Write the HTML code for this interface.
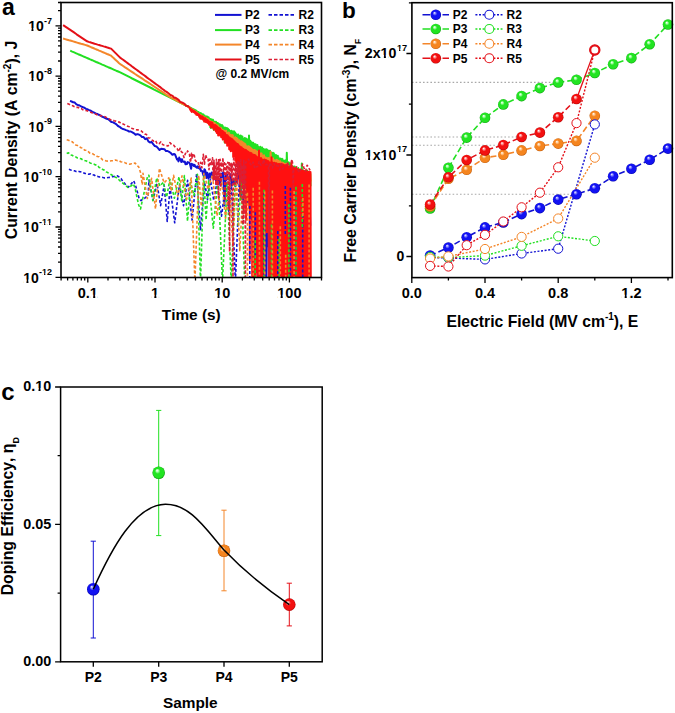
<!DOCTYPE html>
<html><head><meta charset="utf-8"><style>
html,body{margin:0;padding:0;background:#fff;width:675px;height:713px;overflow:hidden}
svg{display:block}
</style></head><body>
<svg width="675" height="713" viewBox="0 0 675 713" font-family="Liberation Sans, sans-serif" font-weight="bold" style="font-kerning:none">
<defs>
<clipPath id="ca"><rect x="61.0" y="2.5" width="260.5" height="275.0"/></clipPath>
<radialGradient id="gb" cx="0.5" cy="0.5" r="0.5" fx="0.36" fy="0.3"><stop offset="0" stop-color="#ffffff"/><stop offset="0.18" stop-color="#9090ff"/><stop offset="0.42" stop-color="#1212f2"/><stop offset="0.85" stop-color="#1212f2"/><stop offset="1" stop-color="#0000a8"/></radialGradient>
<radialGradient id="gg" cx="0.5" cy="0.5" r="0.5" fx="0.36" fy="0.3"><stop offset="0" stop-color="#ffffff"/><stop offset="0.18" stop-color="#b0ffb0"/><stop offset="0.42" stop-color="#22e422"/><stop offset="0.85" stop-color="#22e422"/><stop offset="1" stop-color="#0ea00e"/></radialGradient>
<radialGradient id="go" cx="0.5" cy="0.5" r="0.5" fx="0.36" fy="0.3"><stop offset="0" stop-color="#ffffff"/><stop offset="0.18" stop-color="#ffd0a0"/><stop offset="0.42" stop-color="#f5851f"/><stop offset="0.85" stop-color="#f5851f"/><stop offset="1" stop-color="#c05a08"/></radialGradient>
<radialGradient id="gr" cx="0.5" cy="0.5" r="0.5" fx="0.36" fy="0.3"><stop offset="0" stop-color="#ffffff"/><stop offset="0.18" stop-color="#ffa0a0"/><stop offset="0.42" stop-color="#f21010"/><stop offset="0.85" stop-color="#f21010"/><stop offset="1" stop-color="#b00000"/></radialGradient>
</defs>
<rect width="675" height="713" fill="#fff"/>
<g clip-path="url(#ca)" fill="none" stroke-linejoin="round">
<path d="M70.0,100.9 71.6,101.5 73.2,102.3 74.8,102.6 76.4,104.4 78.0,105.0 79.6,105.5 81.2,106.5 82.8,107.1 84.4,107.7 86.0,108.9 87.6,109.3 89.2,110.1 90.8,110.7 92.4,111.8 94.0,112.5 95.6,113.4 97.2,113.9 98.8,114.8 100.4,115.4 102.0,116.6 103.6,117.2 105.2,118.0 106.8,118.8 108.4,119.3 110.0,120.8 111.6,122.1 113.2,122.3 114.8,123.3 116.4,124.4 118.0,126.0 119.6,126.8 121.2,128.1 122.8,129.0 124.4,129.4 126.0,130.1 127.6,130.6 129.2,131.6 130.8,131.5 132.4,132.4 134.0,133.3 135.6,134.7 137.2,134.1 138.8,134.5 140.4,135.4 142.0,137.0 143.6,137.1 145.2,139.2 146.8,138.3 148.4,141.4 150.0,142.5 151.6,141.9 153.2,144.2 154.8,146.1 156.4,146.4 158.0,148.1 159.6,150.0 161.2,148.8 162.8,149.0 164.4,149.2 166.0,151.1 167.6,151.0 169.2,151.9 170.8,153.0 172.4,154.8 174.0,154.0 175.0,154.4 175.7,156.1 176.4,157.8 177.1,159.5 177.8,159.0 178.5,161.4 179.2,157.6 179.9,159.7 180.6,159.2 181.3,162.1 182.0,159.2 182.7,161.4 183.4,161.4 184.1,162.0 184.8,161.5 185.5,164.3 186.2,163.5 186.9,164.1 187.6,162.1 188.3,162.6 189.0,162.5 189.7,163.3 190.4,165.8 191.1,168.8 191.8,163.7 192.5,165.0 193.2,164.6 193.9,166.0 194.6,164.9 195.3,166.7 196.0,166.8 196.7,167.7 197.4,166.3 198.1,167.9 198.8,166.6 199.5,168.7 200.2,168.1 200.9,170.9 201.6,170.6 202.3,171.3 203.0,173.9 203.7,175.8 204.4,169.3 205.1,170.0 205.8,172.4 206.5,177.9 207.3,172.8 208.5,178.7 209.7,173.5 210.7,177.6 211.7,172.5 212.6,177.6 213.5,172.3 214.5,178.2 215.4,177.2 216.5,182.6 217.5,177.5 218.5,181.2 219.5,179.7 220.3,185.2 221.1,173.6 222.1,176.9 223.2,172.3 224.4,205.4 225.6,175.8 226.3,180.3 227.1,174.7 227.8,178.8 228.4,177.9 229.5,179.6 230.6,174.2 231.5,185.3 232.3,180.1 233.5,182.4 234.6,180.5 235.5,186.3 236.4,180.1 237.1,183.5 237.8,174.0 239.0,175.5 240.3,182.3 241.0,188.1 241.7,179.4 242.3,184.9 243.0,181.9 243.7,183.2 244.5,179.7 245.7,182.1 246.8,181.0 247.7,203.2 248.7,182.1 249.5,196.5 250.4,184.8 251.5,219.2 252.7,179.7 253.5,182.2 254.4,180.0 255.0,282.0 255.6,181.8 256.3,208.3 257.0,176.6 258.3,282.0 259.6,179.4 260.4,180.7 261.1,179.1 261.8,183.1 262.4,179.6 263.1,237.8 263.8,183.4 264.6,282.0 265.4,183.8 266.4,282.0 267.5,178.8 268.6,246.6 269.6,182.0 270.3,282.0 271.0,178.5 271.8,254.8 272.5,184.7 273.3,282.0 274.1,177.3 275.2,282.0 276.3,177.1 277.1,223.5 277.9,179.1 278.8,213.7 279.6,177.0 280.6,196.7 281.7,176.9 282.8,253.9 284.0,181.2 284.6,191.5 285.2,181.5 286.0,234.7 286.8,185.0 287.4,192.2 288.1,171.2 289.0,188.1 289.8,178.2 290.9,194.1 292.0,194.5 292.7,282.0 293.4,183.4 294.5,225.4 295.6,179.7 296.6,282.0 297.6,186.0 298.6,196.1 299.5,189.6 300.4,223.2 301.4,190.3 302.3,198.6 303.2,185.7 304.4,282.0 305.6,177.5 306.4,179.8 307.3,175.5 308.2,224.2 309.1,184.9 310.3,225.8" stroke="#1212d2" stroke-width="2.0"/>
<path d="M70.2,50.7 72.2,51.6 74.2,52.4 76.2,53.3 78.2,54.2 80.2,55.0 82.2,55.9 84.2,56.8 86.2,57.6 88.2,58.5 90.2,59.4 92.2,60.2 94.2,61.1 96.2,62.0 98.2,62.8 100.2,63.7 102.2,64.6 104.2,65.4 106.2,66.3 108.2,67.2 110.2,68.0 112.2,68.9 114.2,69.8 116.2,70.7 118.2,71.5 120.2,72.4 122.2,73.4 124.2,74.4 126.2,75.4 128.2,76.4 130.2,77.4 132.2,78.5 134.2,79.5 136.2,80.5 138.2,81.5 140.2,82.5 142.2,83.5 144.2,84.5 146.2,85.5 148.2,86.5 150.2,87.5 152.2,88.5 154.2,89.6 156.2,90.6 158.2,91.6 160.2,92.6 162.2,93.6 164.2,94.6 166.2,95.6 168.2,96.6 170.2,97.6 172.2,98.6 174.2,99.6 176.2,100.7 178.2,101.7 180.2,102.7 182.2,103.7 184.2,104.7 186.2,105.7 188.2,106.7 190.2,107.7 192.2,108.7 194.2,109.6 196.2,110.6 198.0,112.4 198.3,114.1 198.6,112.1 198.9,113.5 199.2,113.1 199.5,115.0 199.8,114.1 200.1,117.3 200.4,112.9 200.7,114.9 201.0,113.3 201.3,116.0 201.6,113.9 201.9,116.0 202.2,114.6 202.5,117.6 202.8,114.2 203.1,116.9 203.4,114.5 203.7,118.7 204.0,115.3 204.3,120.4 204.6,115.4 204.9,118.3 205.2,117.4 205.5,121.1 205.8,116.9 206.1,120.7 206.4,116.4 206.7,121.6 207.0,116.4 207.3,122.3 207.6,116.8 207.9,120.5 208.2,117.8 208.5,123.1 208.8,117.5 209.1,122.7 209.4,119.8 209.7,124.0 210.0,119.5 210.3,127.1 210.6,119.0 210.9,127.9 211.2,119.4 211.5,124.8 211.8,119.6 212.1,124.3 212.4,119.8 212.7,124.9 213.0,119.8 213.3,128.4 213.6,121.8 213.9,130.0 214.2,121.7 214.5,128.3 214.8,121.7 215.1,127.1 215.4,122.8 215.7,128.9 216.0,121.8 216.3,127.6 216.6,123.9 216.9,132.2 217.2,123.1 217.5,130.8 217.8,122.9 218.1,130.0 218.4,123.9 218.7,134.8 219.0,124.0 219.3,130.8 219.6,125.5 219.9,131.8 220.2,124.4 220.5,130.7 220.8,127.1 221.1,135.1 221.4,126.3 221.7,134.8 222.0,125.1 222.3,133.7 222.6,125.7 222.9,132.5 223.2,128.0 223.5,134.9 223.8,127.5 224.1,137.0 224.4,128.4 224.7,142.6 225.0,127.4 225.3,135.2 225.6,128.4 225.9,135.4 226.2,127.9 226.5,137.4 226.8,129.6 227.1,138.2 227.4,128.3 227.7,138.4 228.0,128.8 228.3,136.0 228.6,129.6 228.9,136.6 229.2,130.0 229.5,140.5 229.8,130.8 230.1,137.5 230.4,131.1 230.7,139.8 231.0,133.1 231.3,144.0 231.6,130.8 231.9,138.3 232.2,132.4 232.5,141.0 232.8,131.7 233.1,138.6 233.4,132.3 233.7,140.5 234.0,131.2 234.3,142.5 234.6,133.3 234.9,144.0 235.2,132.6 235.5,142.2 235.8,134.3 236.1,142.3 236.4,134.2 236.7,145.5 237.0,135.0 237.3,145.6 237.6,136.2 237.9,145.6 238.2,134.6 238.5,143.2 238.8,137.0 239.1,148.2 239.4,136.4 239.7,143.8 240.0,135.7 240.3,145.0 240.6,135.5 240.9,146.5 241.2,136.1 241.5,146.0 241.8,137.7 242.1,146.0 242.4,136.6 242.7,144.5 243.0,139.4 243.3,147.3 243.6,138.9 243.9,147.4 244.2,138.4 244.5,148.2 244.8,138.0 245.1,149.3 245.4,141.5 245.7,149.7 246.0,138.4 246.3,146.5 246.6,138.9 246.9,148.5 247.2,139.2 247.5,149.2 247.8,140.2 248.1,150.5 248.4,141.5 248.7,151.5 249.0,135.6 249.3,143.7 249.6,140.8 249.9,149.4 250.2,140.8 250.5,156.2 250.8,141.6 251.1,151.3 251.4,142.2 251.7,157.2 252.0,142.6 252.3,157.0 252.6,143.7 252.9,151.9 253.2,142.7 253.5,150.9 253.8,143.8 254.1,152.1 254.4,143.9 254.7,152.0 255.0,145.3 255.3,156.7 255.6,144.3 255.9,152.5 256.2,145.0 256.5,154.3 256.8,145.4 257.1,154.8 257.4,145.1 257.7,155.1 258.0,146.6 258.3,155.0 258.6,147.0 258.9,156.7 259.2,148.5 259.5,157.0 259.8,148.2 260.1,164.0 260.4,146.8 260.7,156.6 261.0,147.9 261.3,157.8 261.6,148.7 261.9,159.1 262.2,147.6 262.5,163.6 262.8,152.0 263.1,163.4 263.4,149.1 263.7,157.8 264.0,150.2 264.3,160.1 264.6,149.5 264.9,159.0 265.2,149.5 265.5,159.0 265.8,150.7 266.1,161.0 266.4,149.2 266.7,158.1 267.0,149.6 267.3,159.5 267.6,150.2 267.9,159.9 268.2,150.7 268.5,160.1 268.8,150.8 269.1,162.1 269.4,152.0 269.7,162.3 270.0,150.8 270.3,159.9 270.6,153.6 270.9,163.5 271.2,152.5 271.5,162.7 271.8,153.0 272.1,164.3 272.4,153.9 272.7,164.2 273.0,152.8 273.3,164.9 273.6,153.0 273.9,163.2 274.2,154.1 274.5,164.6 274.8,155.0 275.1,166.2 275.4,156.3 275.7,166.0 276.0,155.1 276.3,166.1 276.6,156.7 276.9,167.0 277.2,157.3 277.5,166.8 277.8,155.7 278.1,168.9 278.4,157.2 278.7,171.5 279.0,159.5 279.3,171.3 279.6,161.0 279.9,173.2 280.2,158.5 280.5,169.0 280.8,159.8 281.1,175.1 281.4,160.5 281.7,173.2 282.0,158.7 282.3,169.9 282.6,159.2 282.9,169.2 283.2,161.0 283.5,173.7 283.8,160.9 284.1,172.9 284.4,160.7 284.7,170.9 285.0,160.5 285.3,173.4 285.6,160.4 285.9,171.1 286.2,160.8 286.5,171.8 286.8,152.7 287.1,162.7 287.4,164.3 287.7,178.1 288.0,163.7 288.3,174.2 288.6,162.2 288.9,175.3 289.2,163.1 289.5,176.6 289.8,165.9 290.1,176.7 290.4,163.4 290.7,173.8 291.0,165.4 291.3,176.4 291.6,166.6 291.9,178.9 292.2,166.3 292.5,177.3 292.8,169.3 293.1,181.2 293.4,167.3 293.7,178.1 294.0,167.3 294.3,178.7 294.6,166.6 294.9,179.6 295.2,168.9 295.5,182.5 295.8,167.4 296.1,180.8 296.4,168.5 296.7,182.2 297.0,169.5 297.3,180.5 297.6,169.2 297.9,180.0 298.2,168.0 298.5,180.1 298.8,169.8 299.1,185.1 299.4,170.4 299.7,181.2 300.0,171.9 300.3,183.6 300.6,171.7 300.9,183.6 301.2,174.5 301.5,188.1 301.8,163.5 302.1,178.7 302.4,169.8 302.7,180.8 303.0,171.3 303.3,183.7 303.6,172.7 303.9,184.5 304.2,170.9 304.5,182.3 304.8,172.2 305.1,183.5 305.4,171.0 305.7,184.6 306.0,172.0 306.3,185.7 306.6,170.7 306.9,182.1 307.2,170.4 307.5,182.8 307.8,175.1 308.1,186.5 308.4,172.7 308.7,185.4 309.0,172.5 309.3,184.3 309.6,172.9 309.9,184.3 310.2,173.9 310.5,186.3" stroke="#22e022" stroke-width="2.0"/>
<path d="M63.1,38.5 65.1,39.1 67.1,39.7 69.1,40.3 71.1,40.8 73.1,41.4 75.1,42.0 77.1,42.6 79.1,43.2 81.1,43.8 83.1,44.3 85.1,44.9 87.1,45.5 89.1,46.3 91.1,47.2 93.1,48.0 95.1,48.9 97.1,49.7 99.1,50.6 101.1,51.4 103.1,52.3 105.1,53.1 107.1,54.0 109.1,54.8 111.1,55.7 113.1,57.6 115.1,59.4 117.1,61.3 119.1,63.2 121.1,64.7 123.1,66.0 125.1,67.4 127.1,68.7 129.1,70.0 131.1,71.3 133.1,72.6 135.1,74.0 137.1,75.3 139.1,76.6 141.1,77.9 143.1,79.2 145.1,80.6 147.1,81.9 149.1,83.2 151.1,84.5 153.1,85.8 155.1,87.2 157.1,88.5 159.1,89.8 161.1,91.1 163.1,92.4 165.1,93.8 167.1,95.1 169.1,96.4 171.1,97.6 173.1,98.7 175.1,99.7 177.1,100.8 179.1,101.9 181.1,103.0 183.1,104.0 185.1,105.1 187.1,106.2 189.1,107.5 191.1,108.8 193.1,110.1 195.1,111.4 197.1,112.6 198.0,113.6 198.3,114.6 198.6,114.6 198.9,115.5 199.2,115.0 199.5,116.3 199.8,114.8 200.1,116.4 200.4,115.8 200.7,117.6 201.0,115.2 201.3,116.9 201.6,115.6 201.9,117.6 202.2,116.9 202.5,118.9 202.8,117.6 203.1,119.6 203.4,116.6 203.7,118.4 204.0,117.3 204.3,121.0 204.6,117.4 204.9,119.2 205.2,118.7 205.5,122.0 205.8,117.7 206.1,120.0 206.4,118.8 206.7,120.9 207.0,118.7 207.3,120.9 207.6,120.3 207.9,123.1 208.2,119.2 208.5,122.2 208.8,120.4 209.1,123.5 209.4,120.6 209.7,124.4 210.0,121.1 210.3,124.0 210.6,121.3 210.9,123.9 211.2,121.7 211.5,124.6 211.8,122.2 212.1,126.0 212.4,121.9 212.7,125.2 213.0,124.8 213.3,127.6 213.6,122.8 213.9,125.9 214.2,124.2 214.5,127.8 214.8,123.2 215.1,126.9 215.4,125.6 215.7,129.2 216.0,124.5 216.3,127.8 216.6,125.7 216.9,131.5 217.2,126.5 217.5,130.0 217.8,125.2 218.1,129.7 218.4,127.2 218.7,130.8 219.0,127.3 219.3,131.7 219.6,129.8 219.9,133.9 220.2,128.8 220.5,133.3 220.8,127.8 221.1,132.2 221.4,129.0 221.7,133.1 222.0,130.9 222.3,137.3 222.6,130.1 222.9,134.6 223.2,130.2 223.5,135.2 223.8,131.0 224.1,134.9 224.4,130.7 224.7,135.4 225.0,132.6 225.3,136.4 225.6,131.8 225.9,136.7 226.2,130.8 226.5,136.0 226.8,133.5 227.1,138.3 227.4,133.5 227.7,137.5 228.0,134.1 228.3,138.2 228.6,132.5 228.9,138.5 229.2,133.0 229.5,138.3 229.8,134.7 230.1,138.8 230.4,135.1 230.7,139.6 231.0,135.0 231.3,145.0 231.6,137.0 231.9,141.7 232.2,135.2 232.5,139.7 232.8,135.3 233.1,143.3 233.4,138.0 233.7,142.9 234.0,137.9 234.3,142.8 234.6,139.8 234.9,145.1 235.2,137.2 235.5,141.9 235.8,141.8 236.1,146.1 236.4,137.9 236.7,142.7 237.0,138.4 237.3,142.5 237.6,139.1 237.9,143.2 238.2,140.2 238.5,144.9 238.8,141.1 239.1,145.4 239.4,140.3 239.7,147.4 240.0,142.5 240.3,147.5 240.6,142.7 240.9,150.3 241.2,141.2 241.5,149.1 241.8,141.5 242.1,145.9 242.4,143.4 242.7,148.1 243.0,142.6 243.3,147.2 243.6,142.9 243.9,147.4 244.2,144.5 244.5,150.2 244.8,143.7 245.1,148.4 245.4,144.3 245.7,151.9 246.0,147.9 246.3,152.3 246.6,146.6 246.9,151.9 247.2,146.6 247.5,154.4 247.8,147.3 248.1,152.1 248.4,146.3 248.7,150.7 249.0,146.4 249.3,150.8 249.6,149.1 249.9,154.4 250.2,147.6 250.5,152.6 250.8,148.0 251.1,156.9 251.4,149.3 251.7,154.3 252.0,149.3 252.3,155.4 252.6,150.1 252.9,157.3 253.2,151.5 253.5,157.3 253.8,150.0 254.1,155.0 254.4,149.9 254.7,154.7 255.0,152.9 255.3,158.8 255.6,150.4 255.9,156.8 256.2,151.2 256.5,157.4 256.8,152.1 257.1,158.3 257.4,152.9 257.7,158.3 258.0,151.5 258.3,156.2 258.6,155.0 258.9,160.8 259.2,154.1 259.5,160.0 259.8,154.1 260.1,160.3 260.4,154.8 260.7,161.5 261.0,153.2 261.3,158.5 261.6,153.6 261.9,159.7 262.2,155.6 262.5,160.3 262.8,157.0 263.1,162.7 263.4,158.5 263.7,163.6 264.0,155.3 264.3,162.6 264.6,161.8 264.9,170.8 265.2,157.5 265.5,163.6 265.8,157.6 266.1,162.6 266.4,157.9 266.7,163.9 267.0,160.3 267.3,167.0 267.6,158.9 267.9,164.5 268.2,158.1 268.5,163.2 268.8,160.0 269.1,167.0 269.4,162.7 269.7,167.9 270.0,158.1 270.3,163.8 270.6,152.1 270.9,157.6 271.2,161.6 271.5,167.2 271.8,160.5 272.1,165.7 272.4,161.3 272.7,167.8 273.0,158.2 273.3,165.2 273.6,160.2 273.9,167.8 274.2,162.6 274.5,168.2 274.8,160.2 275.1,165.4 275.4,162.8 275.7,168.3 276.0,160.6 276.3,166.3 276.6,159.7 276.9,166.0 277.2,161.5 277.5,166.9 277.8,160.5 278.1,166.3 278.4,160.7 278.7,166.4 279.0,162.3 279.3,168.5 279.6,161.4 279.9,168.7 280.2,161.2 280.5,166.9 280.8,167.2 281.1,175.8 281.4,165.9 281.7,171.5 282.0,162.6 282.3,168.0 282.6,166.2 282.9,173.4 283.2,163.1 283.5,169.2 283.8,165.3 284.1,172.5 284.4,163.7 284.7,170.2 285.0,166.3 285.3,172.5 285.6,165.5 285.9,171.0 286.2,163.8 286.5,173.8 286.8,165.7 287.1,172.6 287.4,164.7 287.7,171.9 288.0,166.3 288.3,174.3 288.6,166.2 288.9,172.1 289.2,166.6 289.5,172.6 289.8,171.5 290.1,179.7 290.4,166.2 290.7,175.6 291.0,168.7 291.3,175.5 291.6,167.1 291.9,173.2 292.2,168.7 292.5,174.6 292.8,169.8 293.1,176.0 293.4,169.7 293.7,176.3 294.0,171.6 294.3,178.1 294.6,169.0 294.9,175.5 295.2,169.6 295.5,175.9 295.8,172.7 296.1,183.4 296.4,174.3 296.7,180.7 297.0,170.2 297.3,176.3 297.6,169.6 297.9,176.4 298.2,170.2 298.5,178.1 298.8,172.7 299.1,178.9 299.4,173.2 299.7,179.2 300.0,170.6 300.3,177.4 300.6,173.6 300.9,179.9 301.2,171.1 301.5,178.6 301.8,171.4 302.1,179.6 302.4,173.8 302.7,181.5 303.0,172.5 303.3,180.4 303.6,175.5 303.9,182.1 304.2,172.4 304.5,179.4 304.8,173.7 305.1,180.9 305.4,172.5 305.7,179.0 306.0,171.8 306.3,177.9 306.6,175.4 306.9,183.3 307.2,172.4 307.5,179.4 307.8,173.2 308.1,180.1 308.4,172.0 308.7,179.0 309.0,179.9 309.3,186.9 309.6,172.8 309.9,179.7 310.2,173.4 310.5,181.5" stroke="#f4862a" stroke-width="2.0"/>
<path d="M63.1,25.2 64.6,26.2 66.1,27.2 67.6,28.2 69.1,29.2 70.6,30.2 72.1,31.2 73.6,32.2 75.1,33.2 76.6,34.3 78.1,35.3 79.6,36.3 81.1,37.3 82.6,38.3 84.1,39.3 85.6,40.3 87.1,41.3 88.6,41.9 90.1,42.3 91.6,42.8 93.1,43.2 94.6,43.7 96.1,44.1 97.6,44.6 99.1,45.0 100.6,45.5 102.1,45.9 103.6,46.4 105.1,46.8 106.6,47.3 108.1,47.7 109.6,48.2 111.1,48.6 112.6,50.1 114.1,51.6 115.6,53.1 117.1,54.6 118.6,56.1 120.1,57.6 121.6,58.7 123.1,59.8 124.6,60.9 126.1,62.0 127.6,63.1 129.1,64.2 130.6,65.3 132.1,66.5 133.6,67.6 135.1,68.7 136.6,69.8 138.1,70.9 139.6,72.0 141.1,73.1 142.6,74.2 144.1,75.3 145.6,76.4 147.1,77.6 148.6,78.7 150.1,79.8 151.6,80.9 153.1,82.0 154.6,83.1 156.1,84.2 157.6,85.3 159.1,86.4 160.6,87.4 162.1,88.7 163.6,89.8 165.1,91.1 166.6,91.9 168.1,93.0 169.6,94.3 171.1,95.3 172.6,95.9 174.1,97.7 175.6,97.8 177.1,98.8 178.6,99.8 180.1,101.9 181.6,102.3 183.1,103.0 184.6,103.9 186.1,105.8 187.6,106.0 189.1,106.8" stroke="#e41018" stroke-width="2.0"/>
<path d="M189.1,106.8 190.0,108.8 190.2,109.8 190.5,108.5 190.8,109.5 191.0,110.2 191.2,111.2 191.5,111.0 191.8,112.0 192.0,109.8 192.2,110.8 192.5,110.6 192.8,111.6 193.0,110.6 193.2,111.6 193.5,111.0 193.8,112.2 194.0,111.2 194.2,112.2 194.5,111.2 194.8,112.2 195.0,112.5 195.2,113.6 195.5,112.1 195.8,113.7 196.0,113.3 196.2,114.5 196.5,113.5 196.8,114.9 197.0,113.2 197.2,114.2 197.5,113.8 197.8,115.0 198.0,113.9 198.2,115.1 198.5,114.3 198.8,115.8 199.0,115.0 199.2,116.8 199.5,115.0 199.8,116.6 200.0,116.1 200.2,118.4 200.5,116.0 200.8,117.9 201.0,117.1 201.2,118.8 201.5,117.2 201.8,118.5 202.0,116.2 202.2,118.7 202.5,116.5 202.8,118.5 203.0,117.5 203.2,119.6 203.5,117.6 203.8,119.9 204.0,119.2 204.2,121.6 204.5,118.4 204.8,121.0 205.0,118.4 205.2,120.6 205.5,118.3 205.8,119.8 206.0,120.3 206.2,122.1 206.5,119.7 206.8,121.4 207.0,120.1 207.2,122.5 207.5,119.9 207.8,122.0 208.0,120.6 208.2,122.6 208.5,121.9 208.8,123.9 209.0,121.4 209.2,124.8 209.5,122.8 209.8,124.5 210.0,122.2 210.2,124.7 210.5,122.2 210.8,125.8 211.0,123.5 211.2,127.4 211.5,122.5 211.8,125.4 212.0,122.6 212.2,126.2 212.5,123.0 212.8,127.1 213.0,124.5 213.2,127.9 213.5,124.8 213.8,129.6 214.0,124.9 214.2,128.4 214.5,125.4 214.8,128.8 215.0,125.1 215.2,129.2 215.5,125.6 215.8,131.3 216.0,125.6 216.2,131.6 216.5,127.2 216.8,132.9 217.0,126.4 217.2,132.8 217.5,127.3 217.8,132.2 218.0,128.6 218.2,135.5 218.5,127.7 218.8,131.9 219.0,128.0 219.2,134.4 219.5,129.5 219.8,134.8 220.0,128.6 220.2,135.6 220.5,129.5 220.8,133.6 221.0,131.2 221.2,137.3 221.5,130.6 221.8,137.1 222.0,131.0 222.2,136.6 222.5,130.9 222.8,139.6 223.0,131.4 223.2,138.0 223.5,132.9 223.8,138.0 224.0,132.2 224.2,138.5 224.5,133.1 224.8,141.7 225.0,133.0 225.2,142.8 225.5,134.4 225.8,142.8 226.0,134.8 226.2,139.9 226.5,135.1 226.8,141.1 227.0,135.8 227.2,145.7 227.5,135.3 227.8,140.9 228.0,136.1 228.2,141.6 228.5,137.1 228.8,144.1 229.0,137.7 229.2,149.3 229.5,137.6 229.8,146.9 230.0,138.0 230.2,150.1 230.5,139.9 230.8,151.3 231.0,138.7 231.2,149.7 231.5,138.8 231.8,149.2 232.0,139.9 232.2,148.2 232.5,139.6 232.8,151.5 233.0,141.3 233.2,157.0 233.5,140.5 233.8,153.2 234.0,142.2 234.2,156.4 234.5,141.6 234.8,156.7 235.0,142.2 235.2,160.2 235.5,142.4 235.8,152.0 236.0,143.5 236.2,163.2 236.5,143.4 236.8,164.5 237.0,143.8 237.2,165.7 237.5,144.5 237.8,164.4 238.0,144.3 238.2,172.3 238.5,145.1 238.8,168.2 239.0,145.9 239.2,166.0 239.5,147.0 239.8,194.4 240.0,146.5 240.2,169.2 240.5,147.2 240.8,199.7 241.0,147.5 241.2,172.7 241.5,147.3 241.8,187.5 242.0,148.0 242.2,184.8 242.5,148.4 242.8,179.2 243.0,149.5 243.2,170.7 243.5,149.0 243.8,213.6 244.0,150.2 244.2,179.4 244.5,150.7 244.8,187.5 245.0,149.8 245.2,173.7 245.5,150.3 245.8,179.4 246.0,150.1 246.2,219.8 246.5,151.3 246.8,173.6 247.0,151.0 247.2,200.6 247.5,151.2 247.8,173.8 248.0,152.9 248.2,189.7 248.5,152.0 248.8,184.3 249.0,153.2 249.2,208.5 249.5,152.9 249.8,260.8 250.0,152.8 250.2,197.6 250.5,153.0 250.8,216.2 251.0,154.2 251.2,209.9 251.5,153.3 251.8,201.1 252.0,154.6 252.2,282.0 252.5,154.4 252.8,282.0 253.0,155.0 253.2,282.0 253.5,154.7 253.8,282.0 254.0,154.9 254.2,202.9 254.5,155.0 254.8,191.2 255.0,155.8 255.2,205.2 255.5,155.6 255.8,282.0 256.0,156.2 256.2,221.4 256.5,156.4 256.8,272.3 257.0,157.5 257.2,220.6 257.5,158.3 257.8,249.7 258.0,157.3 258.2,282.0 258.5,157.0 258.8,282.0 259.0,150.6 259.2,282.0 259.5,158.3 259.8,282.0 260.0,158.4 260.2,282.0 260.5,159.4 260.8,238.2 261.0,158.0 261.2,282.0 261.5,160.1 261.8,282.0 262.0,160.3 262.2,282.0 262.5,159.6 262.8,282.0 263.0,160.0 263.2,282.0 263.5,160.0 263.8,282.0 264.0,161.1 264.2,282.0 264.5,159.6 264.8,202.5 265.0,160.5 265.2,194.0 265.5,159.9 265.8,194.5 266.0,161.6 266.2,201.6 266.5,160.2 266.8,232.2 267.0,161.7 267.2,218.5 267.5,161.8 267.8,216.1 268.0,161.0 268.2,218.1 268.5,161.2 268.8,282.0 269.0,162.5 269.2,282.0 269.5,162.4 269.8,282.0 270.0,162.5 270.2,282.0 270.5,162.7 270.8,282.0 271.0,162.5 271.2,282.0 271.5,157.2 271.8,226.8 272.0,162.2 272.2,282.0 272.5,164.1 272.8,282.0 273.0,162.7 273.2,282.0 273.5,163.1 273.8,214.5 274.0,164.0 274.2,282.0 274.5,162.8 274.8,282.0 275.0,163.0 275.2,282.0 275.5,163.6 275.8,282.0 276.0,164.9 276.2,282.0 276.5,163.3 276.8,282.0 277.0,164.6 277.2,207.2 277.5,164.5 277.8,282.0 278.0,166.5 278.2,282.0 278.5,164.1 278.8,282.0 279.0,164.4 279.2,282.0 279.5,164.0 279.8,282.0 280.0,164.9 280.2,282.0 280.5,164.5 280.8,282.0 281.0,164.8 281.2,282.0 281.5,164.4 281.8,282.0 282.0,165.1 282.2,282.0 282.5,165.2 282.8,282.0 283.0,164.5 283.2,282.0 283.5,164.8 283.8,282.0 284.0,165.5 284.2,282.0 284.5,165.5 284.8,282.0 285.0,166.5 285.2,282.0 285.5,165.3 285.8,282.0 286.0,165.6 286.2,282.0 286.5,167.5 286.8,282.0 287.0,166.0 287.2,282.0 287.5,165.9 287.8,282.0 288.0,166.5 288.2,282.0 288.5,166.9 288.8,282.0 289.0,166.7 289.2,282.0 289.5,167.7 289.8,282.0 290.0,166.7 290.2,282.0 290.5,167.4 290.8,282.0 291.0,167.9 291.2,282.0 291.5,163.0 291.8,282.0 292.0,167.9 292.2,282.0 292.5,168.6 292.8,282.0 293.0,167.5 293.2,282.0 293.5,169.2 293.8,282.0 294.0,167.9 294.2,282.0 294.5,168.9 294.8,282.0 295.0,168.3 295.2,282.0 295.5,168.5 295.8,282.0 296.0,169.4 296.2,282.0 296.5,169.3 296.8,232.1 297.0,169.2 297.2,282.0 297.5,169.1 297.8,282.0 298.0,169.7 298.2,282.0 298.5,169.9 298.8,282.0 299.0,170.3 299.2,282.0 299.5,169.5 299.8,233.8 300.0,169.9 300.2,282.0 300.5,172.4 300.8,282.0 301.0,170.2 301.2,282.0 301.5,170.3 301.8,282.0 302.0,171.7 302.2,268.7 302.5,171.1 302.8,282.0 303.0,170.6 303.2,207.7 303.5,171.3 303.8,282.0 304.0,171.4 304.2,258.8 304.5,171.3 304.8,282.0 305.0,171.6 305.2,282.0 305.5,171.4 305.8,282.0 306.0,171.1 306.2,282.0 306.5,172.0 306.8,282.0 307.0,171.9 307.2,282.0 307.5,171.5 307.8,282.0 308.0,171.9 308.2,282.0 308.5,172.4 308.8,282.0 309.0,171.7 309.2,282.0 309.5,172.6 309.8,282.0 310.0,173.6 310.2,282.0 310.5,172.0 310.8,282.0" stroke="#ff1010" stroke-width="2.0"/>
<path d="M68.9,169.3 70.7,170.0 72.5,170.4 74.3,170.8 76.1,171.5 77.9,171.1 79.7,171.7 81.5,171.9 83.3,172.7 85.1,173.5 86.9,173.6 88.7,174.2 90.5,173.9 92.3,174.9 94.1,175.0 95.9,176.3 97.7,176.4 99.5,176.9 101.3,177.0 103.1,177.6 104.9,178.1 106.7,177.9 108.5,177.5 110.3,177.3 112.1,176.8 113.9,176.5 115.7,176.3 117.5,175.9 119.3,177.1 121.1,178.6 122.9,181.6 124.7,183.4 126.5,185.7 128.3,187.1 130.1,185.2 131.9,183.0 133.7,180.8 135.5,185.4 137.3,191.8 139.1,198.5 140.9,200.6 142.7,199.1 144.5,198.4 146.3,196.9 148.1,195.9 148.9,180.1 153.0,200.2 157.0,183.6 160.6,205.6 164.2,185.1 167.2,221.4 170.1,187.5 174.7,222.8 179.4,185.1 183.5,205.7 187.6,180.4 192.1,220.1 196.6,173.9 200.5,230.4 204.5,181.9 207.5,199.7 210.4,179.2 213.7,200.3 217.0,182.5 221.5,216.1 225.9,182.7 228.7,211.1 231.4,183.2 235.4,282.0 239.3,182.4 243.5,202.1M249.8,206.1V282.0M255.3,212.3V258.2M264.2,193.2V282.0M269.2,316.5V339.5M277.8,231.0V282.0M285.3,186.0V235.2M290.4,187.7V282.0M295.7,191.9V293.7M302.7,214.5V282.0" stroke="#1212d2" stroke-width="1.6" stroke-dasharray="3,2"/>
<path d="M66.7,153.5 68.5,152.8 70.3,154.8 72.1,155.3 73.9,156.4 75.7,156.9 77.5,158.0 79.3,158.2 81.1,158.8 82.9,159.9 84.7,160.6 86.5,161.1 88.3,161.9 90.1,162.9 91.9,163.7 93.7,164.1 95.5,164.9 97.3,165.2 99.1,167.4 100.9,167.9 102.7,169.5 104.5,170.3 106.3,171.9 108.1,172.8 109.9,173.6 111.7,175.0 113.5,175.4 115.3,177.2 117.1,177.7 118.9,179.8 120.7,181.6 122.5,182.9 124.3,184.3 126.1,185.8 127.9,187.5 129.7,186.9 131.5,185.5 133.3,183.8 135.1,188.1 136.9,197.1 138.7,205.0 140.5,209.0 142.3,200.6 144.1,192.6 145.9,184.1 147.7,175.7 148.9,175.3 152.8,200.6 156.7,177.9 160.0,186.1 163.4,182.1 166.6,197.2 169.9,179.4 174.4,198.2 179.0,176.7 181.7,200.6 184.4,175.5 187.5,221.2 190.5,182.6 194.0,195.3 197.4,174.2 200.5,282.0 203.7,176.4 206.1,219.9 208.6,180.8 213.3,228.2 218.0,178.0 222.5,282.0 227.1,182.3 231.2,282.0 235.3,177.3 238.3,226.6 241.3,178.5 244.7,282.0M247.6,296.3V282.0M255.2,240.3V314.8M264.1,189.8V282.0M271.5,224.6V282.0M279.1,238.8V282.0M288.9,204.2V282.0M296.0,186.7V282.0M302.3,184.1V229.2" stroke="#22e022" stroke-width="1.6" stroke-dasharray="3,2"/>
<path d="M66.7,139.8 68.5,140.3 70.3,141.1 72.1,141.7 73.9,143.4 75.7,144.9 77.5,145.5 79.3,146.7 81.1,147.8 82.9,148.2 84.7,150.3 86.5,150.2 88.3,151.6 90.1,153.3 91.9,153.4 93.7,154.4 95.5,155.2 97.3,156.5 99.1,156.7 100.9,158.2 102.7,159.9 104.5,160.4 106.3,161.0 108.1,161.1 109.9,161.0 111.7,160.8 113.5,160.8 115.3,160.0 117.1,160.6 118.9,160.6 120.7,161.7 122.5,162.1 124.3,162.4 126.1,163.4 127.9,163.7 129.7,164.2 131.5,163.7 133.3,163.8 135.1,163.0 136.9,165.3 138.7,166.9 140.5,172.4 142.3,184.7 143.0,173.4 147.3,198.5 151.6,178.3 155.5,208.9 159.4,168.3 164.1,182.9 168.8,177.8 171.2,190.9 173.6,175.4 177.8,196.1 182.0,175.9 186.6,199.4 191.2,178.1 194.9,282.0 198.7,175.4 201.3,206.1 203.9,173.2 208.1,189.2 212.4,174.9 217.0,215.8 221.5,178.9 225.5,218.3 229.5,180.1 232.9,245.3 236.3,174.3 239.8,250.7 243.3,181.2 247.5,200.9M247.4,192.7V282.0M253.2,187.8V282.0M259.4,181.8V282.0M264.8,191.6V282.0M272.4,190.5V282.0M280.3,226.2V282.0M285.7,254.7V282.0M294.1,191.0V282.0M302.9,197.9V218.4M309.1,184.6V282.0" stroke="#f4862a" stroke-width="1.6" stroke-dasharray="3,2"/>
<path d="M67.3,103.6 69.1,104.3 70.9,105.4 72.7,105.7 74.5,106.7 76.3,107.4 78.1,107.3 79.9,108.7 81.7,108.8 83.5,110.3 85.3,110.5 87.1,110.7 88.9,111.6 90.7,112.2 92.5,112.9 94.3,113.8 96.1,114.2 97.9,115.2 99.7,115.5 101.5,115.9 103.3,116.1 105.1,116.7 106.9,117.9 108.7,118.7 110.5,119.7 112.3,119.8 114.1,120.7 115.9,121.1 117.7,122.0 119.5,122.1 121.3,123.7 123.1,124.0 124.9,124.9 126.7,125.8 128.5,126.5 130.3,126.8 132.1,128.5 133.9,129.0 135.7,129.7 137.5,129.9 139.3,130.1 141.1,130.8 142.9,132.4 144.7,133.9 146.5,134.6 148.3,138.0 150.1,138.0 151.9,139.9 153.7,141.2 155.5,140.4 157.3,144.0 159.1,143.7 160.9,141.9 162.7,144.6 164.5,145.4 166.3,145.6 168.1,146.0 169.9,142.6 171.7,144.6 173.5,145.1 175.3,147.3 177.1,148.6 178.9,151.6 180.0,148.3 181.3,151.6 182.5,152.8 184.0,157.6 185.5,153.2 186.6,153.9 187.6,150.9 188.6,152.9 189.5,154.4 190.5,162.4 191.5,153.4 192.2,158.7 193.0,153.5 194.1,154.2 195.2,160.3 196.7,162.2 198.1,161.8 199.3,167.7 200.5,162.3 201.9,167.8 203.3,154.3 204.5,164.1 205.6,154.9 206.9,158.8 208.1,158.6 209.0,169.7 209.9,159.0 211.2,165.2 212.5,157.8 213.2,180.1 214.0,160.2 214.7,180.3 215.4,164.6 215.9,185.5 216.4,159.4 217.2,184.2 218.0,161.0 218.4,198.0 218.8,158.9 219.4,179.7 220.1,159.3 220.9,187.5 221.7,162.1 222.3,166.8 222.9,157.6 223.6,172.1 224.3,161.2 225.1,201.2 225.9,163.9 226.3,183.9 226.8,165.6 227.3,179.7 227.8,162.2 228.4,208.1 229.1,161.2 229.6,251.8 230.0,162.5 230.6,172.1 231.1,163.3 231.7,179.2 232.3,163.0 233.0,282.0 233.6,158.6 234.1,164.2 234.6,162.7 235.2,184.2 235.8,164.8 236.3,180.3 236.9,162.5 237.4,183.8 237.9,161.5 238.7,174.6 239.4,161.2 240.0,196.6 240.7,159.9 241.2,181.8 241.8,165.1 242.3,222.3 242.8,165.0 243.3,224.6 243.8,160.4 244.4,195.7 245.0,164.4 245.4,282.0 245.7,162.3 247.2,162.0 248.7,159.2 250.2,163.8 251.7,165.4 253.2,162.2 254.7,168.7 256.2,166.7 257.7,166.5 259.2,161.3 260.7,165.2 262.2,165.4 263.7,159.5 265.2,164.7 266.7,164.2 268.5,166.2 268.9,282.0 269.4,162.8 270.9,164.5 272.4,168.1 273.9,163.3 275.4,166.4 276.9,165.7 278.4,166.1 279.9,169.9 281.4,162.1 282.9,168.9 284.4,166.8 285.9,166.0 287.4,162.1 288.9,167.2 290.4,165.5 291.9,159.3 292.7,163.7 293.2,189.2 293.6,170.6 295.1,169.5 296.6,166.8 298.1,170.6 299.6,172.5 301.1,168.5 302.6,164.1 304.1,168.4 305.6,171.2 307.1,165.2 308.6,167.8 310.1,170.3" stroke="#dc1e34" stroke-width="1.6" stroke-dasharray="3,2"/>
</g>
<rect x="61.0" y="2.5" width="260.5" height="275.0" fill="none" stroke="#000" stroke-width="1.6"/>
<path d="M61.0,277.3H55.5M61.0,262.2H58.0M61.0,253.3H58.0M61.0,247.0H58.0M61.0,242.1H58.0M61.0,238.2H58.0M61.0,234.8H58.0M61.0,231.9H58.0M61.0,229.3H58.0M61.0,227.0H55.5M61.0,211.9H58.0M61.0,203.0H58.0M61.0,196.7H58.0M61.0,191.8H58.0M61.0,187.9H58.0M61.0,184.5H58.0M61.0,181.6H58.0M61.0,179.0H58.0M61.0,176.7H55.5M61.0,161.6H58.0M61.0,152.7H58.0M61.0,146.4H58.0M61.0,141.5H58.0M61.0,137.6H58.0M61.0,134.2H58.0M61.0,131.3H58.0M61.0,128.7H58.0M61.0,126.4H55.5M61.0,111.3H58.0M61.0,102.4H58.0M61.0,96.1H58.0M61.0,91.2H58.0M61.0,87.3H58.0M61.0,83.9H58.0M61.0,81.0H58.0M61.0,78.4H58.0M61.0,76.1H55.5M61.0,61.0H58.0M61.0,52.1H58.0M61.0,45.8H58.0M61.0,40.9H58.0M61.0,37.0H58.0M61.0,33.6H58.0M61.0,30.7H58.0M61.0,28.1H58.0M61.0,25.8H55.5M61.0,10.7H58.0M61.0,2.5H58.0M61.1,277.5V280.5M67.6,277.5V280.5M72.9,277.5V280.5M77.4,277.5V280.5M81.3,277.5V280.5M84.7,277.5V280.5M87.8,277.5V282.5M108.0,277.5V280.5M119.9,277.5V280.5M128.3,277.5V280.5M134.8,277.5V280.5M140.1,277.5V280.5M144.6,277.5V280.5M148.5,277.5V280.5M151.9,277.5V280.5M155.0,277.5V282.5M175.2,277.5V280.5M187.1,277.5V280.5M195.5,277.5V280.5M202.0,277.5V280.5M207.3,277.5V280.5M211.8,277.5V280.5M215.7,277.5V280.5M219.1,277.5V280.5M222.2,277.5V282.5M242.4,277.5V280.5M254.3,277.5V280.5M262.7,277.5V280.5M269.2,277.5V280.5M274.5,277.5V280.5M279.0,277.5V280.5M282.9,277.5V280.5M286.3,277.5V280.5M289.4,277.5V282.5M309.6,277.5V280.5M321.5,277.5V280.5" stroke="#000" stroke-width="1.3" fill="none"/>
<text x="38.79" y="282.50" font-size="14" text-anchor="end">10</text>
<text x="52.00" y="275.30" font-size="9" text-anchor="end">-12</text>
<text x="38.79" y="232.20" font-size="14" text-anchor="end">10</text>
<text x="52.00" y="225.00" font-size="9" text-anchor="end">-11</text>
<text x="38.79" y="181.90" font-size="14" text-anchor="end">10</text>
<text x="52.00" y="174.70" font-size="9" text-anchor="end">-10</text>
<text x="43.80" y="131.60" font-size="14" text-anchor="end">10</text>
<text x="52.00" y="124.40" font-size="9" text-anchor="end">-9</text>
<text x="43.80" y="81.30" font-size="14" text-anchor="end">10</text>
<text x="52.00" y="74.10" font-size="9" text-anchor="end">-8</text>
<text x="43.80" y="31.00" font-size="14" text-anchor="end">10</text>
<text x="52.00" y="23.80" font-size="9" text-anchor="end">-7</text>
<text x="87.80" y="297.80" font-size="14.5" text-anchor="middle">0.1</text>
<text x="155.00" y="297.80" font-size="14.5" text-anchor="middle">1</text>
<text x="222.20" y="297.80" font-size="14.5" text-anchor="middle">10</text>
<text x="289.40" y="297.80" font-size="14.5" text-anchor="middle">100</text>
<text x="191.25" y="319.9" font-size="15.4" text-anchor="middle">Time (s)</text>
<text transform="translate(17.2,140) rotate(-90)" font-size="15.8" text-anchor="middle">Current Density (A cm<tspan dy="-6.5" font-size="10">-2</tspan><tspan dy="6.5">), J</tspan></text>
<text x="2" y="14.7" font-size="23">a</text>
<path d="M215,14.9H241.5" stroke="#1212d2" stroke-width="2"/>
<text x="245" y="19.1" font-size="12">P2</text>
<path d="M268.5,14.9H295.5" stroke="#1212d2" stroke-width="1.6" stroke-dasharray="3.5,2"/>
<text x="298.5" y="19.1" font-size="12">R2</text>
<path d="M215,30.1H241.5" stroke="#22e022" stroke-width="2"/>
<text x="245" y="34.3" font-size="12">P3</text>
<path d="M268.5,30.1H295.5" stroke="#22e022" stroke-width="1.6" stroke-dasharray="3.5,2"/>
<text x="298.5" y="34.3" font-size="12">R3</text>
<path d="M215,44.6H241.5" stroke="#f4862a" stroke-width="2"/>
<text x="245" y="48.8" font-size="12">P4</text>
<path d="M268.5,44.6H295.5" stroke="#f4862a" stroke-width="1.6" stroke-dasharray="3.5,2"/>
<text x="298.5" y="48.8" font-size="12">R4</text>
<path d="M215,59.5H241.5" stroke="#e41018" stroke-width="2"/>
<text x="245" y="63.7" font-size="12">P5</text>
<path d="M268.5,59.5H295.5" stroke="#dc1e34" stroke-width="1.6" stroke-dasharray="3.5,2"/>
<text x="298.5" y="63.7" font-size="12">R5</text>
<text x="215.5" y="78.3" font-size="12">@ 0.2 MV/cm</text>
<path d="M411.9,82.4H558.0" stroke="#a8a8a8" stroke-width="1.1" stroke-dasharray="1.6,2.1"/>
<path d="M411.9,137.0H521.6" stroke="#a8a8a8" stroke-width="1.1" stroke-dasharray="1.6,2.1"/>
<path d="M411.9,145.2H503.3" stroke="#a8a8a8" stroke-width="1.1" stroke-dasharray="1.6,2.1"/>
<path d="M411.9,194.2H576.4" stroke="#a8a8a8" stroke-width="1.1" stroke-dasharray="1.6,2.1"/>
<path d="M430.1,255.6 448.4,247.6 466.7,237.2 485.0,227.4 503.3,222.4 521.6,214.1 539.9,208.1 558.2,199.6 576.5,194.2 594.8,188.3 613.1,176.3 631.4,168.8 649.7,159.7 668.0,148.6" fill="none" stroke="#1212d2" stroke-width="1.6" stroke-dasharray="6,3"/>
<path d="M430.1,208.5 448.4,167.8 466.7,137.6 485.0,117.8 503.3,104.4 521.6,96.1 539.9,88.1 558.2,82.4 576.5,79.8 594.8,73.0 613.1,64.2 631.4,58.1 649.7,44.2 668.0,24.5" fill="none" stroke="#22e022" stroke-width="1.6" stroke-dasharray="6,3"/>
<path d="M430.1,206.5 448.4,178.8 466.7,169.8 485.0,157.8 503.3,154.8 521.6,150.4 539.9,146.0 558.2,143.6 576.5,140.9 594.8,115.7" fill="none" stroke="#f4862a" stroke-width="1.6" stroke-dasharray="6,3"/>
<path d="M430.1,204.5 448.4,177.3 466.7,160.0 485.0,150.4 503.3,145.0 521.6,137.0 539.9,132.6 558.2,117.2 576.5,99.0" fill="none" stroke="#e41018" stroke-width="1.6" stroke-dasharray="6,3"/>
<path d="M576.5,99.0 594.8,50.0" fill="none" stroke="#e41018" stroke-width="1.3"/>
<path d="M430.1,257.5 448.4,258.0 485.0,259.4 521.6,253.5 558.2,248.7 594.8,124.4" fill="none" stroke="#1212d2" stroke-width="1.4" stroke-dasharray="2,1.6"/>
<path d="M430.1,257.0 448.4,257.6 485.0,255.6 521.6,245.8 558.2,236.3 594.8,241.0" fill="none" stroke="#22e022" stroke-width="1.4" stroke-dasharray="2,1.6"/>
<path d="M430.1,258.5 448.4,256.4 485.0,249.0 521.6,236.9 558.2,218.5 594.8,157.7" fill="none" stroke="#f4862a" stroke-width="1.4" stroke-dasharray="2,1.6"/>
<path d="M430.1,265.9 448.4,266.5 466.7,245.2 485.0,234.8 503.3,221.5 521.6,207.3 539.9,192.7 558.2,167.3 576.5,123.1 594.8,50.0" fill="none" stroke="#e41018" stroke-width="1.4" stroke-dasharray="2,1.6"/>
<circle cx="430.1" cy="255.6" r="5.3" fill="url(#gb)"/>
<circle cx="448.4" cy="247.6" r="5.3" fill="url(#gb)"/>
<circle cx="466.7" cy="237.2" r="5.3" fill="url(#gb)"/>
<circle cx="485.0" cy="227.4" r="5.3" fill="url(#gb)"/>
<circle cx="503.3" cy="222.4" r="5.3" fill="url(#gb)"/>
<circle cx="521.6" cy="214.1" r="5.3" fill="url(#gb)"/>
<circle cx="539.9" cy="208.1" r="5.3" fill="url(#gb)"/>
<circle cx="558.2" cy="199.6" r="5.3" fill="url(#gb)"/>
<circle cx="576.5" cy="194.2" r="5.3" fill="url(#gb)"/>
<circle cx="594.8" cy="188.3" r="5.3" fill="url(#gb)"/>
<circle cx="613.1" cy="176.3" r="5.3" fill="url(#gb)"/>
<circle cx="631.4" cy="168.8" r="5.3" fill="url(#gb)"/>
<circle cx="649.7" cy="159.7" r="5.3" fill="url(#gb)"/>
<circle cx="668.0" cy="148.6" r="5.3" fill="url(#gb)"/>
<circle cx="430.1" cy="208.5" r="5.3" fill="url(#gg)"/>
<circle cx="448.4" cy="167.8" r="5.3" fill="url(#gg)"/>
<circle cx="466.7" cy="137.6" r="5.3" fill="url(#gg)"/>
<circle cx="485.0" cy="117.8" r="5.3" fill="url(#gg)"/>
<circle cx="503.3" cy="104.4" r="5.3" fill="url(#gg)"/>
<circle cx="521.6" cy="96.1" r="5.3" fill="url(#gg)"/>
<circle cx="539.9" cy="88.1" r="5.3" fill="url(#gg)"/>
<circle cx="558.2" cy="82.4" r="5.3" fill="url(#gg)"/>
<circle cx="576.5" cy="79.8" r="5.3" fill="url(#gg)"/>
<circle cx="594.8" cy="73.0" r="5.3" fill="url(#gg)"/>
<circle cx="613.1" cy="64.2" r="5.3" fill="url(#gg)"/>
<circle cx="631.4" cy="58.1" r="5.3" fill="url(#gg)"/>
<circle cx="649.7" cy="44.2" r="5.3" fill="url(#gg)"/>
<circle cx="668.0" cy="24.5" r="5.3" fill="url(#gg)"/>
<circle cx="430.1" cy="206.5" r="5.3" fill="url(#go)"/>
<circle cx="448.4" cy="178.8" r="5.3" fill="url(#go)"/>
<circle cx="466.7" cy="169.8" r="5.3" fill="url(#go)"/>
<circle cx="485.0" cy="157.8" r="5.3" fill="url(#go)"/>
<circle cx="503.3" cy="154.8" r="5.3" fill="url(#go)"/>
<circle cx="521.6" cy="150.4" r="5.3" fill="url(#go)"/>
<circle cx="539.9" cy="146.0" r="5.3" fill="url(#go)"/>
<circle cx="558.2" cy="143.6" r="5.3" fill="url(#go)"/>
<circle cx="576.5" cy="140.9" r="5.3" fill="url(#go)"/>
<circle cx="594.8" cy="115.7" r="5.3" fill="url(#go)"/>
<circle cx="430.1" cy="204.5" r="5.3" fill="url(#gr)"/>
<circle cx="448.4" cy="177.3" r="5.3" fill="url(#gr)"/>
<circle cx="466.7" cy="160.0" r="5.3" fill="url(#gr)"/>
<circle cx="485.0" cy="150.4" r="5.3" fill="url(#gr)"/>
<circle cx="503.3" cy="145.0" r="5.3" fill="url(#gr)"/>
<circle cx="521.6" cy="137.0" r="5.3" fill="url(#gr)"/>
<circle cx="539.9" cy="132.6" r="5.3" fill="url(#gr)"/>
<circle cx="558.2" cy="117.2" r="5.3" fill="url(#gr)"/>
<circle cx="576.5" cy="99.0" r="5.3" fill="url(#gr)"/>
<circle cx="594.8" cy="50.0" r="5.3" fill="url(#gr)"/>
<circle cx="430.1" cy="257.5" r="4.6" fill="#fff" stroke="#1212d2" stroke-width="1.0"/>
<circle cx="448.4" cy="258.0" r="4.6" fill="#fff" stroke="#1212d2" stroke-width="1.0"/>
<circle cx="485.0" cy="259.4" r="4.6" fill="#fff" stroke="#1212d2" stroke-width="1.0"/>
<circle cx="521.6" cy="253.5" r="4.6" fill="#fff" stroke="#1212d2" stroke-width="1.0"/>
<circle cx="558.2" cy="248.7" r="4.6" fill="#fff" stroke="#1212d2" stroke-width="1.0"/>
<circle cx="594.8" cy="124.4" r="4.6" fill="#fff" stroke="#1212d2" stroke-width="1.0"/>
<circle cx="430.1" cy="257.0" r="4.6" fill="#fff" stroke="#22e022" stroke-width="1.0"/>
<circle cx="448.4" cy="257.6" r="4.6" fill="#fff" stroke="#22e022" stroke-width="1.0"/>
<circle cx="485.0" cy="255.6" r="4.6" fill="#fff" stroke="#22e022" stroke-width="1.0"/>
<circle cx="521.6" cy="245.8" r="4.6" fill="#fff" stroke="#22e022" stroke-width="1.0"/>
<circle cx="558.2" cy="236.3" r="4.6" fill="#fff" stroke="#22e022" stroke-width="1.0"/>
<circle cx="594.8" cy="241.0" r="4.6" fill="#fff" stroke="#22e022" stroke-width="1.0"/>
<circle cx="430.1" cy="258.5" r="4.6" fill="#fff" stroke="#f4862a" stroke-width="1.0"/>
<circle cx="448.4" cy="256.4" r="4.6" fill="#fff" stroke="#f4862a" stroke-width="1.0"/>
<circle cx="485.0" cy="249.0" r="4.6" fill="#fff" stroke="#f4862a" stroke-width="1.0"/>
<circle cx="521.6" cy="236.9" r="4.6" fill="#fff" stroke="#f4862a" stroke-width="1.0"/>
<circle cx="558.2" cy="218.5" r="4.6" fill="#fff" stroke="#f4862a" stroke-width="1.0"/>
<circle cx="594.8" cy="157.7" r="4.6" fill="#fff" stroke="#f4862a" stroke-width="1.0"/>
<circle cx="430.1" cy="265.9" r="4.6" fill="#fff" stroke="#e41018" stroke-width="1.0"/>
<circle cx="448.4" cy="266.5" r="4.6" fill="#fff" stroke="#e41018" stroke-width="1.0"/>
<circle cx="466.7" cy="245.2" r="4.6" fill="#fff" stroke="#e41018" stroke-width="1.0"/>
<circle cx="485.0" cy="234.8" r="4.6" fill="#fff" stroke="#e41018" stroke-width="1.0"/>
<circle cx="503.3" cy="221.5" r="4.6" fill="#fff" stroke="#e41018" stroke-width="1.0"/>
<circle cx="521.6" cy="207.3" r="4.6" fill="#fff" stroke="#e41018" stroke-width="1.0"/>
<circle cx="539.9" cy="192.7" r="4.6" fill="#fff" stroke="#e41018" stroke-width="1.0"/>
<circle cx="558.2" cy="167.3" r="4.6" fill="#fff" stroke="#e41018" stroke-width="1.0"/>
<circle cx="576.5" cy="123.1" r="4.6" fill="#fff" stroke="#e41018" stroke-width="1.0"/>
<circle cx="594.8" cy="50.0" r="4.6" fill="#fff" stroke="#e41018" stroke-width="2.2"/>
<rect x="411.9" y="2.7" width="260.4" height="274.9" fill="none" stroke="#000" stroke-width="1.6"/>
<path d="M411.9,256.5H406.4M411.9,155.0H406.4M411.9,53.5H406.4M411.9,205.8H408.9M411.9,104.2H408.9M411.9,2.8H408.9M411.8,277.6V283.1M485.0,277.6V283.1M558.2,277.6V283.1M631.4,277.6V283.1M448.4,277.6V280.6M521.6,277.6V280.6M594.8,277.6V280.6M668.0,277.6V280.6" stroke="#000" stroke-width="1.3" fill="none"/>
<text x="411.80" y="297.80" font-size="14.5" text-anchor="middle">0.0</text>
<text x="485.00" y="297.80" font-size="14.5" text-anchor="middle">0.4</text>
<text x="558.20" y="297.80" font-size="14.5" text-anchor="middle">0.8</text>
<text x="631.40" y="297.80" font-size="14.5" text-anchor="middle">1.2</text>
<text x="404.40" y="260.90" font-size="14" text-anchor="end">0</text>
<text x="396.40" y="159.50" font-size="14.2" text-anchor="end">1x10</text>
<text x="396.90" y="152.20" font-size="9.2">17</text>
<text x="396.40" y="58.00" font-size="14.2" text-anchor="end">2x10</text>
<text x="396.90" y="50.70" font-size="9.2">17</text>
<text x="542.4" y="327.2" font-size="15.75" text-anchor="middle">Electric Field (MV cm<tspan dy="-7" font-size="10">-1</tspan><tspan dy="7">), E</tspan></text>
<text transform="translate(356.2,150.7) rotate(-90)" font-size="15.85" text-anchor="middle">Free Carrier Density (cm<tspan dy="-6.5" font-size="10">-3</tspan><tspan dy="6.5">), N</tspan><tspan dy="4.5" font-size="8.5">F</tspan></text>
<text x="341.9" y="17.9" font-size="22.5">b</text>
<path d="M422.5,14.8H449" stroke="#1212d2" stroke-width="1.6" stroke-dasharray="7.6,12.4"/>
<circle cx="435.8" cy="14.8" r="5.3" fill="url(#gb)"/>
<text x="452.7" y="19.0" font-size="12">P2</text>
<path d="M475.4,14.8H502.5" stroke="#1212d2" stroke-width="1.4" stroke-dasharray="2,1.6"/>
<circle cx="489.3" cy="14.8" r="4.5" fill="#fff" stroke="#1212d2" stroke-width="1.1"/>
<text x="506.6" y="19.0" font-size="12">R2</text>
<path d="M422.5,29.0H449" stroke="#22e022" stroke-width="1.6" stroke-dasharray="7.6,12.4"/>
<circle cx="435.8" cy="29.0" r="5.3" fill="url(#gg)"/>
<text x="452.7" y="33.2" font-size="12">P3</text>
<path d="M475.4,29.0H502.5" stroke="#22e022" stroke-width="1.4" stroke-dasharray="2,1.6"/>
<circle cx="489.3" cy="29.0" r="4.5" fill="#fff" stroke="#22e022" stroke-width="1.1"/>
<text x="506.6" y="33.2" font-size="12">R3</text>
<path d="M422.5,43.8H449" stroke="#f4862a" stroke-width="1.6" stroke-dasharray="7.6,12.4"/>
<circle cx="435.8" cy="43.8" r="5.3" fill="url(#go)"/>
<text x="452.7" y="48.0" font-size="12">P4</text>
<path d="M475.4,43.8H502.5" stroke="#f4862a" stroke-width="1.4" stroke-dasharray="2,1.6"/>
<circle cx="489.3" cy="43.8" r="4.5" fill="#fff" stroke="#f4862a" stroke-width="1.1"/>
<text x="506.6" y="48.0" font-size="12">R4</text>
<path d="M422.5,58.3H449" stroke="#e41018" stroke-width="1.6" stroke-dasharray="7.6,12.4"/>
<circle cx="435.8" cy="58.3" r="5.3" fill="url(#gr)"/>
<text x="452.7" y="62.5" font-size="12">P5</text>
<path d="M475.4,58.3H502.5" stroke="#e41018" stroke-width="1.4" stroke-dasharray="2,1.6"/>
<circle cx="489.3" cy="58.3" r="4.5" fill="#fff" stroke="#e41018" stroke-width="1.1"/>
<text x="506.6" y="62.5" font-size="12">R5</text>
<path d="M93.3,541.2V638.0M90.7,541.2H95.9M90.7,638.0H95.9" stroke="#1212d2" stroke-width="1" fill="none"/>
<path d="M158.7,410.4V535.6M156.1,410.4H161.3M156.1,535.6H161.3" stroke="#22e022" stroke-width="1" fill="none"/>
<path d="M224.0,510.2V590.8M221.4,510.2H226.6M221.4,590.8H226.6" stroke="#f4862a" stroke-width="1" fill="none"/>
<path d="M289.3,583.2V625.9M286.7,583.2H291.9M286.7,625.9H291.9" stroke="#e41018" stroke-width="1" fill="none"/>
<circle cx="93.3" cy="589.2" r="6.3" fill="url(#gb)"/>
<circle cx="158.7" cy="472.7" r="6.3" fill="url(#gg)"/>
<circle cx="224.0" cy="550.8" r="6.3" fill="url(#go)"/>
<circle cx="289.3" cy="604.6" r="6.3" fill="url(#gr)"/>
<path d="M93.3,589.2 C112,548 135,505 165.3,504.3 C190,504 205,528 224,550 C245,572 265,588 289.3,604.6" fill="none" stroke="#000" stroke-width="1.5"/>
<rect x="60.6" y="387.0" width="261.6" height="274.8" fill="none" stroke="#000" stroke-width="1.5"/>
<path d="M60.6,661.8H55.1M60.6,524.4H55.1M60.6,387.0H55.1M60.6,593.1H57.6M60.6,455.7H57.6M93.3,661.8V666.8M158.7,661.8V666.8M224.0,661.8V666.8M289.3,661.8V666.8" stroke="#000" stroke-width="1.3" fill="none"/>
<text x="51.20" y="666.00" font-size="14.4" text-anchor="end">0.00</text>
<text x="51.20" y="528.60" font-size="14.4" text-anchor="end">0.05</text>
<text x="51.20" y="391.20" font-size="14.4" text-anchor="end">0.10</text>
<text x="93.3" y="681.8" font-size="14" text-anchor="middle">P2</text>
<text x="158.7" y="681.8" font-size="14" text-anchor="middle">P3</text>
<text x="224.0" y="681.8" font-size="14" text-anchor="middle">P4</text>
<text x="289.3" y="681.8" font-size="14" text-anchor="middle">P5</text>
<text x="190.3" y="707.8" font-size="15.4" text-anchor="middle">Sample</text>
<text transform="translate(13,516.2) rotate(-90)" font-size="15.8" text-anchor="middle">Doping Efficiency, η<tspan dy="5.5" font-size="9">D</tspan></text>
<text x="1.2" y="400.0" font-size="24">c</text>
<rect x="23.63" y="279.47" width="2.82" height="4.23" fill="#fff"/>
<rect x="28.45" y="279.47" width="2.46" height="4.23" fill="#fff"/>
<rect x="42.25" y="273.24" width="1.81" height="3.26" fill="#fff"/>
<rect x="45.35" y="273.24" width="1.58" height="3.26" fill="#fff"/>
<rect x="23.63" y="229.17" width="2.82" height="4.23" fill="#fff"/>
<rect x="28.45" y="229.17" width="2.46" height="4.23" fill="#fff"/>
<rect x="42.25" y="222.94" width="1.81" height="3.26" fill="#fff"/>
<rect x="45.35" y="222.94" width="1.58" height="3.26" fill="#fff"/>
<rect x="47.26" y="222.94" width="1.81" height="3.26" fill="#fff"/>
<rect x="50.36" y="222.94" width="1.58" height="3.26" fill="#fff"/>
<rect x="23.63" y="178.87" width="2.82" height="4.23" fill="#fff"/>
<rect x="28.45" y="178.87" width="2.46" height="4.23" fill="#fff"/>
<rect x="42.25" y="172.64" width="1.81" height="3.26" fill="#fff"/>
<rect x="45.35" y="172.64" width="1.58" height="3.26" fill="#fff"/>
<rect x="28.64" y="128.57" width="2.82" height="4.23" fill="#fff"/>
<rect x="33.46" y="128.57" width="2.46" height="4.23" fill="#fff"/>
<rect x="28.64" y="78.27" width="2.82" height="4.23" fill="#fff"/>
<rect x="33.46" y="78.27" width="2.46" height="4.23" fill="#fff"/>
<rect x="28.64" y="27.97" width="2.82" height="4.23" fill="#fff"/>
<rect x="33.46" y="27.97" width="2.46" height="4.23" fill="#fff"/>
<rect x="90.24" y="294.67" width="2.92" height="4.33" fill="#fff"/>
<rect x="95.23" y="294.67" width="2.55" height="4.33" fill="#fff"/>
<rect x="151.39" y="294.67" width="2.92" height="4.33" fill="#fff"/>
<rect x="156.38" y="294.67" width="2.55" height="4.33" fill="#fff"/>
<rect x="214.56" y="294.67" width="2.92" height="4.33" fill="#fff"/>
<rect x="219.55" y="294.67" width="2.55" height="4.33" fill="#fff"/>
<rect x="277.73" y="294.67" width="2.92" height="4.33" fill="#fff"/>
<rect x="282.72" y="294.67" width="2.55" height="4.33" fill="#fff"/>
<rect x="621.75" y="294.67" width="2.92" height="4.33" fill="#fff"/>
<rect x="626.74" y="294.67" width="2.55" height="4.33" fill="#fff"/>
<rect x="365.23" y="156.43" width="2.86" height="4.27" fill="#fff"/>
<rect x="370.11" y="156.43" width="2.50" height="4.27" fill="#fff"/>
<rect x="381.02" y="156.43" width="2.86" height="4.27" fill="#fff"/>
<rect x="385.91" y="156.43" width="2.50" height="4.27" fill="#fff"/>
<rect x="397.17" y="150.10" width="1.85" height="3.30" fill="#fff"/>
<rect x="400.34" y="150.10" width="1.62" height="3.30" fill="#fff"/>
<rect x="381.02" y="54.93" width="2.86" height="4.27" fill="#fff"/>
<rect x="385.91" y="54.93" width="2.50" height="4.27" fill="#fff"/>
<rect x="397.17" y="48.60" width="1.85" height="3.30" fill="#fff"/>
<rect x="400.34" y="48.60" width="1.62" height="3.30" fill="#fff"/>
<rect x="35.60" y="388.09" width="2.90" height="4.31" fill="#fff"/>
<rect x="40.56" y="388.09" width="2.53" height="4.31" fill="#fff"/>
</svg>
</body></html>
